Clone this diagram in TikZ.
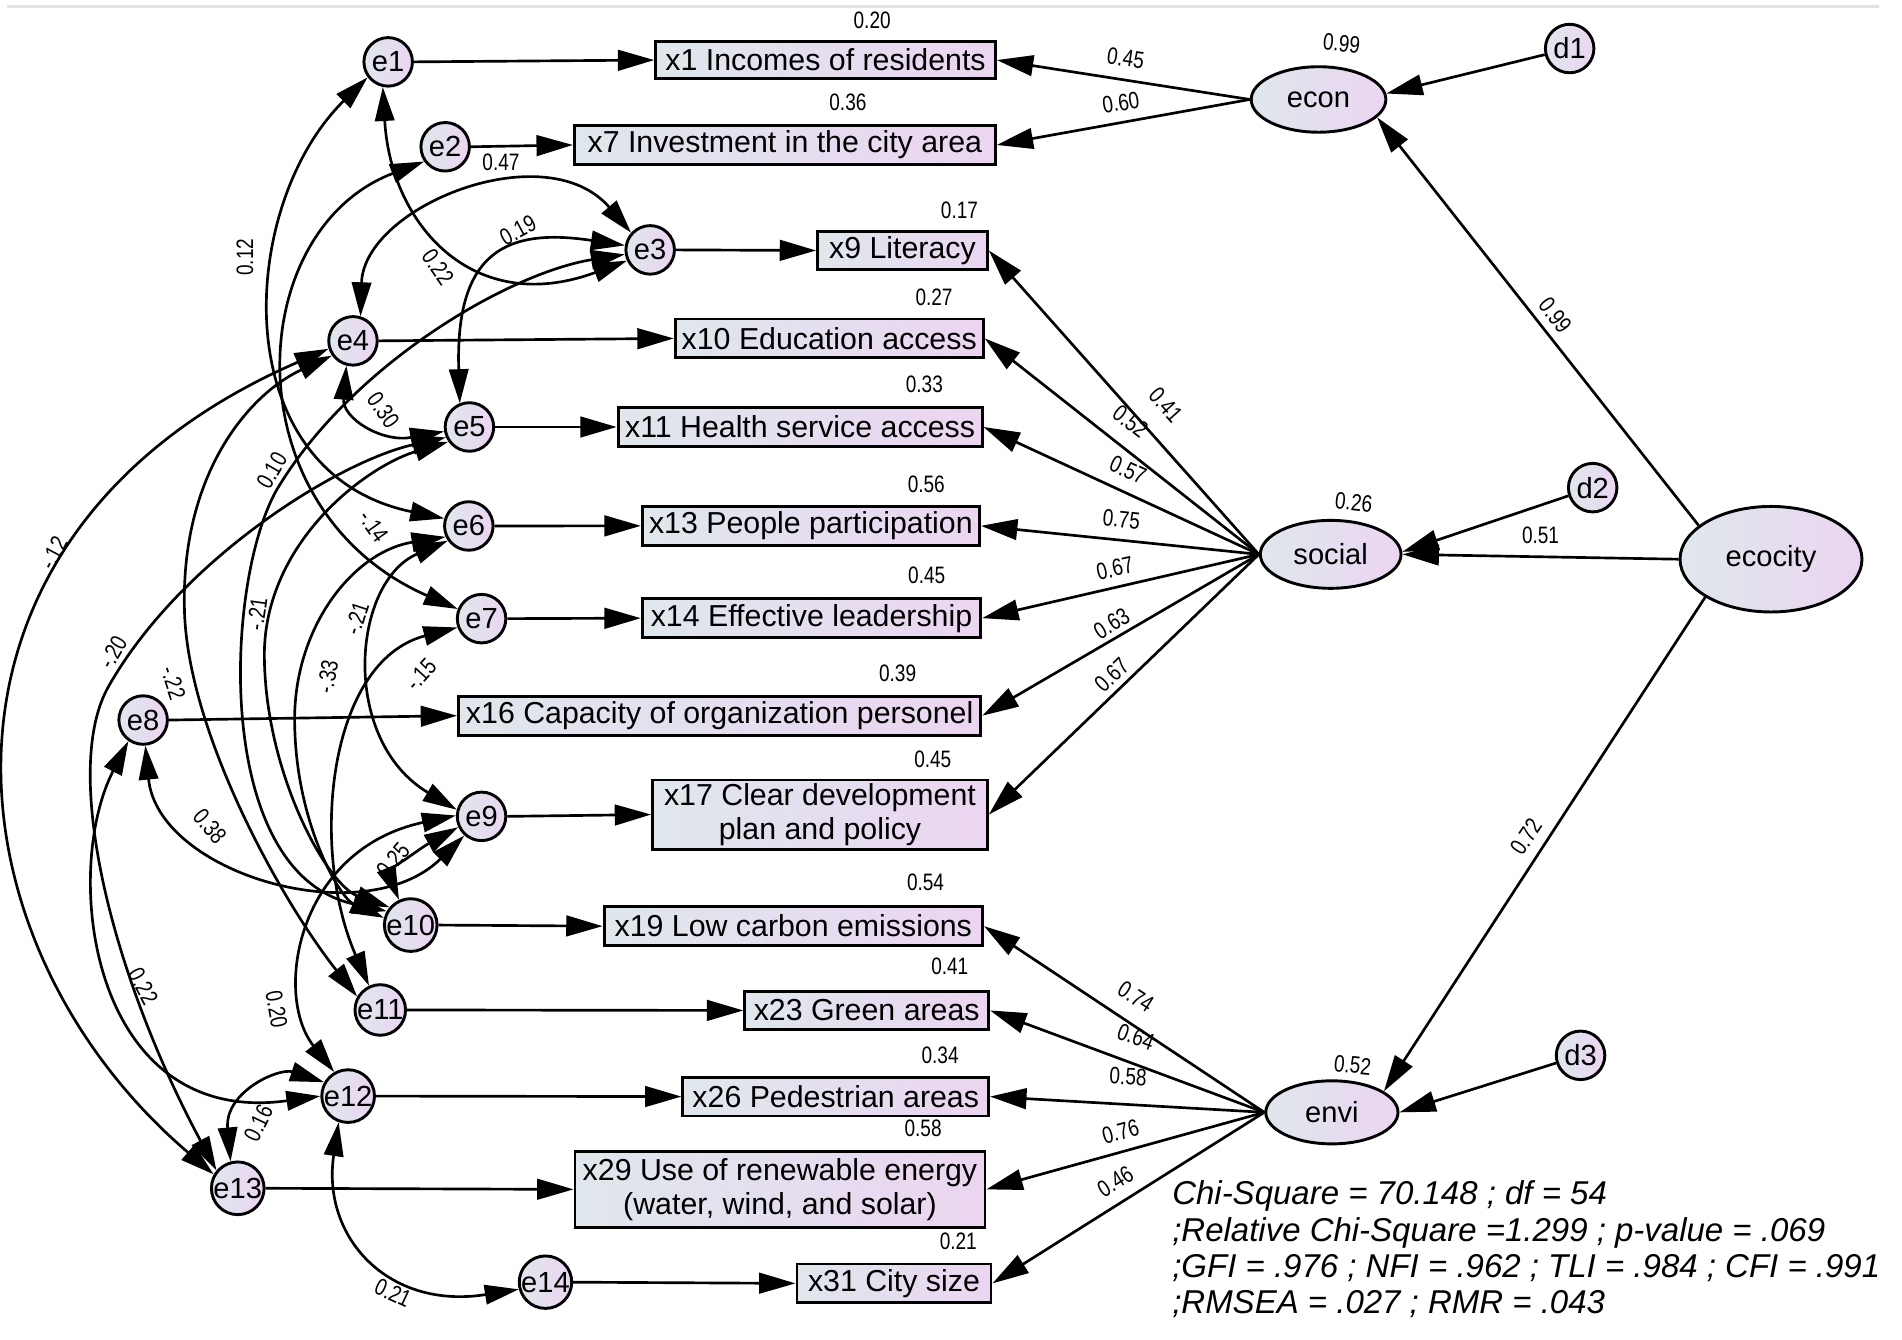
\documentclass[tikz,border=0pt]{standalone}
\usepackage{fontspec}
\setmainfont{Liberation Sans}
\newfontfamily\numfont[FakeStretch=0.8]{Liberation Sans}
\usetikzlibrary{arrows.meta,shapes.geometric}
\definecolor{gL}{HTML}{DFE7EC}
\definecolor{gR}{HTML}{EBD5F1}
\definecolor{topline}{HTML}{E2E2E2}
\tikzset{
 obs/.style={draw, line width=1.2pt, left color=gL, right color=gR, minimum height=16pt, inner sep=0pt, align=center, font=\fontsize{12.5}{14}\selectfont},
 err/.style={circle, draw, line width=1.2pt, left color=gL, right color=gR, minimum size=20pt, inner sep=0pt, font=\fontsize{12}{12}\selectfont},
 lat/.style={ellipse, draw, line width=1.2pt, left color=gL, right color=gR, inner sep=0pt, font=\fontsize{12}{12}\selectfont},
 reg/.style={line width=1.1pt, -{Triangle[length=15pt,width=8.5pt]}},
 cov/.style={line width=1.1pt, {Triangle[length=14pt,width=8pt]}-{Triangle[length=14pt,width=8pt]}},
 num/.style={inner sep=0pt, font=\numfont\fontsize{9.8}{9.8}\selectfont},
}
\begin{document}
\begin{tikzpicture}[x=0.5pt,y=-0.5pt]
\useasboundingbox (0,0) rectangle (1568,1104);
\draw[topline, line width=1.2pt] (6,5) -- (1549,5);

% observed variables
\node[obs, minimum width=140pt, minimum height=15pt] (x1) at (680.6,49.5) {x1 Incomes of residents};
\node[obs, minimum width=173.5pt] (x7) at (647,119.5) {x7 Investment in the city area};
\node[obs, minimum width=70pt] (x9) at (744,206.5) {x9 Literacy};
\node[obs, minimum width=127pt] (x10) at (683.6,279) {x10 Education access};
\node[obs, minimum width=150pt] (x11) at (659.6,352) {x11 Health service access};
\node[obs, minimum width=139pt] (x13) at (668.5,433.5) {x13 People participation};
\node[obs, minimum width=139.5pt] (x14) at (669,509.6) {x14 Effective leadership};
\node[obs, minimum width=215.3pt] (x16) at (593.3,590) {x16 Capacity of organization personel};
\node[obs, minimum width=138pt, minimum height=28.5pt] (x17) at (676,671.5) {x17 Clear development\\plan and policy};
\node[obs, minimum width=156pt] (x19) at (654,763.5) {x19 Low carbon emissions};
\node[obs, minimum width=100.5pt] (x23) at (714.5,833) {x23 Green areas};
\node[obs, minimum width=126pt] (x26) at (689,904) {x26 Pedestrian areas};
\node[obs, minimum width=169pt, minimum height=31.5pt] (x29) at (643,980.5) {x29 Use of renewable energy\\(water, wind, and solar)};
\node[obs, minimum width=80pt] (x31) at (737,1058) {x31 City size};

% error terms
\node[err] (e1) at (320,51) {e1};
\node[err] (e2) at (367,121) {e2};
\node[err] (e3) at (536,206) {e3};
\node[err] (e4) at (291,281) {e4};
\node[err] (e5) at (387,352) {e5};
\node[err] (e6) at (386.5,433.6) {e6};
\node[err] (e7) at (397,510) {e7};
\node[err] (e8) at (118,593.6) {e8};
\node[err] (e9) at (397,673) {e9};
\node[err] (e10) at (338.6,762.6) {e10};
\node[err] (e11) at (313.5,832.6) {e11};
\node[err] (e12) at (287,903.6) {e12};
\node[err] (e13) at (196,979.6) {e13};
\node[err] (e14) at (449.7,1057) {e14};
\node[err] (d1) at (1294,40) {d1};
\node[err] (d2) at (1313,402) {d2};
\node[err] (d3) at (1303,870) {d3};

% latent variables
\node[lat, minimum width=55.5pt, minimum height=27pt] (econ) at (1087,82) {econ};
\node[lat, minimum width=58pt, minimum height=28pt] (social) at (1097,457) {social};
\node[lat, minimum width=75pt, minimum height=43.5pt] (ecocity) at (1460,461) {ecocity};
\node[lat, minimum width=54.5pt, minimum height=26pt] (envi) at (1098,917) {envi};

% error -> indicator
\foreach \e/\x in {e1/x1,e2/x7,e3/x9,e4/x10,e5/x11,e6/x13,e7/x14,e8/x16,e9/x17,e10/x19,e11/x23,e12/x26,e13/x29,e14/x31}
  \draw[reg] (\e.east) -- (\x.west);

% latent -> indicators
\foreach \x in {x1,x7} \draw[reg] (econ.west) -- (\x.east);
\foreach \x in {x9,x10,x11,x13,x14,x16,x17} \draw[reg] (social.west) -- (\x.east);
\foreach \x in {x19,x23,x26,x29,x31} \draw[reg] (envi.west) -- (\x.east);

% second order
\draw[reg] (ecocity.155) -- (econ.-17);
\draw[reg] (ecocity.west) -- (social.east);
\draw[reg] (ecocity.210) -- (envi.22);
\draw[reg] (d1) -- (econ.5);
\draw[reg] (d2) -- (social.2);
\draw[reg] (d3) -- (envi.east);

% covariances
\draw[cov] (e1.258) .. controls (322,185) and (390,262) .. (e3.205);
\draw[cov] (e1.217) .. controls (195,170) and (185,390) .. (e6.163);
\draw[cov] (e4.73) .. controls (300,170) and (450,110) .. (e3.138);
\draw[cov] (e3.170) .. controls (420,188) and (375,205) .. (e5.112);
\draw[cov] (e4.255) .. controls (282,345) and (315,365) .. (e5.190);
\draw[cov] (e4.198) .. controls (-80,440) and (-50,775) .. (e13.150);
\draw[cov] (e5.204) .. controls (280,380) and (150,460) .. (90,565) .. controls (50,633) and (91,802) .. (e13.140);
\draw[cov] (e2.215) .. controls (200,190) and (190,420) .. (e7.158);
\draw[cov] (e3.190) .. controls (420,225) and (290,300) .. (228,404) .. controls (185,480) and (175,720) .. (e10.150);
\draw[cov] (e4.215) .. controls (205,325) and (150,390) .. (152,500) .. controls (153,600) and (230,740) .. (e11.150);
\draw[cov] (e5.215) .. controls (300,385) and (215,450) .. (218,545) .. controls (220,640) and (270,730) .. (e10.140);
\draw[cov] (e6.205) .. controls (290,455) and (240,520) .. (243,600) .. controls (245,680) and (280,740) .. (e10.165);
\draw[cov] (e6.215) .. controls (290,480) and (280,610) .. (e9.165);
\draw[cov] (e7.200) .. controls (270,545) and (255,700) .. (e11.115);
\draw[cov] (e8.275) .. controls (130,720) and (300,770) .. (e9.228);
\draw[cov] (e10.115) .. controls (320,720) and (345,700) .. (e9.205);
\draw[cov] (e8.235) .. controls (50,720) and (75,930) .. (e12.180);
\draw[cov] (e12.120) .. controls (225,820) and (245,700) .. (e9.178);
\draw[cov] (e13.105) .. controls (185,900) and (230,880) .. (e12.150);
\draw[cov] (e12.250) .. controls (265,1020) and (320,1080) .. (e14.195);

% squared multiple correlations
\node[num] (r1) at (719,16.5) {0.20};
\node[num] (r7) at (699,84.6) {0.36};
\node[num] (r9) at (791,173.7) {0.17};
\node[num] (r10) at (770,245) {0.27};
\node[num] (r11) at (762,317) {0.33};
\node[num] (r13) at (763.6,399) {0.56};
\node[num] (r14) at (764,474) {0.45};
\node[num] (r16) at (740,555) {0.39};
\node[num] (r17) at (769,626) {0.45};
\node[num] (r19) at (763,727) {0.54};
\node[num] (r23) at (783,797) {0.41};
\node[num] (r26) at (775,870) {0.34};
\node[num] (r29) at (761,930) {0.58};
\node[num] (r31) at (790,1023) {0.21};
\node[num, rotate=-6] (recon) at (1106,36) {0.99};
\node[num, rotate=-6] (rsocial) at (1116,414) {0.26};
\node[num, rotate=-6] (renvi) at (1115,878) {0.52};

% loadings
\node[num, rotate=-8.6] (p1) at (928,48) {0.45};
\node[num, rotate=9] (p7) at (924,84.6) {0.60};
\node[num, rotate=-48] (p9) at (961,334) {0.41};
\node[num, rotate=-38] (p10) at (932,347.6) {0.52};
\node[num, rotate=-24.6] (p11) at (930,387.5) {0.57};
\node[num, rotate=-5.8] (p13) at (924.5,428) {0.75};
\node[num, rotate=12.9] (p14) at (919,468.5) {0.67};
\node[num, rotate=31.6] (p16) at (916.4,513.9) {0.63};
\node[num, rotate=43.6] (p17) at (916.4,556.5) {0.67};
\node[num, rotate=-33] (p19) at (936.4,821.7) {0.74};
\node[num, rotate=-20] (p23) at (936.4,854.6) {0.64};
\node[num, rotate=-3.2] (p26) at (930,887.6) {0.58};
\node[num, rotate=15.3] (p29) at (923.7,933) {0.76};
\node[num, rotate=31.8] (p31) at (919.5,974) {0.46};
\node[num, rotate=-52] (pecon) at (1282,260) {0.99};
\node[num] (psocial) at (1270,441) {0.51};
\node[num, rotate=56] (penvi) at (1258,690) {0.72};

% covariance labels
\node[num, rotate=-55] (c1) at (361,220) {0.22};
\node[num, rotate=90] (c2) at (202,212) {0.12};
\node[num] (c3) at (413,134) {0.47};
\node[num, rotate=28] (c4) at (427,190) {0.19};
\node[num, rotate=-55] (c5) at (316,338) {0.30};
\node[num, rotate=62] (c6) at (44,456) {-.12};
\node[num, rotate=60] (c7) at (93,538) {-.20};
\node[num, rotate=-55] (c8) at (308,434) {-.14};
\node[num, rotate=60] (c9) at (224,388) {0.10};
\node[num, rotate=-72] (c10) at (143,563) {-.22};
\node[num, rotate=82] (c11) at (212,506) {-.21};
\node[num, rotate=80] (c12) at (270,558) {-.33};
\node[num, rotate=72] (c13) at (294,510) {-.21};
\node[num, rotate=48] (c14) at (347,556) {-.15};
\node[num, rotate=-50] (c15) at (173,681) {0.38};
\node[num, rotate=50] (c16) at (324,709) {0.25};
\node[num, rotate=-62] (c17) at (118,813) {0.22};
\node[num, rotate=-80] (c18) at (228,832) {0.20};
\node[num, rotate=64] (c19) at (213,926) {0.16};
\node[num, rotate=-25] (c20) at (324,1066) {0.21};

% fit statistics
\node[anchor=north west, align=left, inner sep=0pt, font=\itshape\fontsize{13.6}{15}\selectfont] (fit) at (966,973)
 {Chi-Square = 70.148 ; df = 54\\;Relative Chi-Square =1.299 ; p-value = .069\\;GFI = .976 ; NFI = .962 ; TLI = .984 ; CFI = .991\\;RMSEA = .027 ; RMR = .043};
\end{tikzpicture}
\end{document}
